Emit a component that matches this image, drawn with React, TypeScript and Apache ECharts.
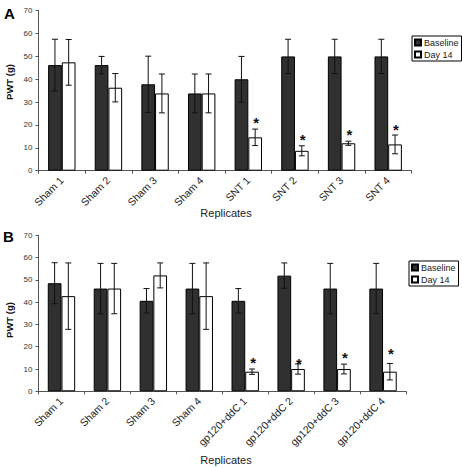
import React, { useEffect, useRef } from "react";
import * as echarts from "echarts";

const categoriesA = ["Sham 1", "Sham 2", "Sham 3", "Sham 4", "SNT 1", "SNT 2", "SNT 3", "SNT 4"];
const baselineA = [46.2, 46.2, 37.8, 33.8, 40.0, 50.0, 50.0, 50.0];
const baselineErrA = [11.3, 3.8, 12.3, 8.5, 10.0, 7.5, 7.5, 7.5];
const day14A = [47.4, 36.3, 33.8, 33.8, 14.6, 8.7, 12.0, 11.5];
const day14ErrA = [10.0, 6.2, 8.5, 8.5, 3.6, 2.2, 0.9, 4.1];
const starA = [null, null, null, null, 22.9, 15.2, 17.8, 19.7];

const categoriesB = ["Sham 1", "Sham 2", "Sham 3", "Sham 4", "gp120+ddC 1", "gp120+ddC 2", "gp120+ddC 3", "gp120+ddC 4"];
const baselineB = [48.5, 46.1, 40.6, 46.1, 40.6, 51.9, 46.1, 46.1];
const baselineErrB = [9.2, 11.3, 5.5, 11.3, 5.5, 5.7, 11.3, 11.3];
const day14B = [42.7, 46.1, 52.0, 42.7, 8.8, 10.0, 10.0, 8.8];
const day14ErrB = [14.9, 11.3, 5.6, 14.9, 1.2, 2.3, 2.2, 3.7];
const starB = [null, null, null, null, 14.5, 14.2, 16.8, 18.7];

const yTicks = { min: 0, max: 70, interval: 10 };
const seriesNames = ["Baseline", "Day 14"];

const FONT = "Liberation Sans, Arial, sans-serif";
const BAR_W = 13.7;
const DARK = "#303030";

function errData(means: number[], errs: number[], stars: (number | null)[] | null) {
  return means.map((m, i) => [i, m, errs[i], stars && stars[i] != null ? stars[i] : -1]);
}

function makeRender(offset: number) {
  return (params: any, api: any) => {
    const idx = api.value(0);
    const mean = api.value(1);
    const err = api.value(2);
    const star = api.value(3);
    const c = api.coord([idx, mean]);
    const x = c[0] + offset;
    const yTop = api.coord([idx, mean + err])[1];
    const yBot = api.coord([idx, mean - err])[1];
    const ls = { stroke: "#111", lineWidth: 1 };
    const children: any[] = [
      { type: "line", shape: { x1: x, y1: yTop, x2: x, y2: yBot }, style: ls },
      { type: "line", shape: { x1: x - 3, y1: yTop, x2: x + 3, y2: yTop }, style: ls },
      { type: "line", shape: { x1: x - 3, y1: yBot, x2: x + 3, y2: yBot }, style: ls },
    ];
    if (star >= 0) {
      const sy = api.coord([idx, star])[1];
      children.push({
        type: "text",
        x: x + 1,
        y: sy + 4,
        style: {
          text: "*",
          fontSize: 15,
          fontWeight: "bold",
          fontFamily: FONT,
          fill: "#111",
          align: "center",
          verticalAlign: "middle",
        },
      });
    }
    return { type: "group", children };
  };
}

function axisPair(gridIndex: number, cats: string[]) {
  const xAxis = {
    type: "category",
    gridIndex,
    data: cats,
    axisLine: { show: true, lineStyle: { color: "#555", width: 1 } },
    axisTick: { show: true, length: 3, lineStyle: { color: "#555" } },
    axisLabel: { rotate: 45, fontSize: 10.5, color: "#222", fontFamily: FONT, margin: 8, interval: 0 },
    splitLine: { show: false },
  };
  const yAxis = {
    type: "value",
    gridIndex,
    min: yTicks.min,
    max: yTicks.max,
    interval: yTicks.interval,
    axisLine: { show: true, lineStyle: { color: "#555", width: 1 } },
    axisTick: { show: true, length: 3, lineStyle: { color: "#555" } },
    axisLabel: { fontSize: 8, color: "#333", fontFamily: FONT, margin: 6 },
    splitLine: { show: false },
  };
  return { xAxis, yAxis };
}

function barSeries(name: string, idx: number, data: number[], color: string) {
  return {
    name,
    type: "bar",
    xAxisIndex: idx,
    yAxisIndex: idx,
    data,
    barWidth: BAR_W,
    barGap: "0%",
    itemStyle: { color, borderColor: "#000", borderWidth: 1 },
    z: 2,
  };
}

function errSeries(idx: number, data: any[], offset: number) {
  return {
    type: "custom",
    xAxisIndex: idx,
    yAxisIndex: idx,
    renderItem: makeRender(offset),
    data,
    encode: { x: 0, y: 1 },
    z: 5,
    silent: true,
  };
}

export default function App() {
  const ref = useRef<HTMLDivElement>(null);
  useEffect(() => {
    if (!ref.current) return;
    const chart = echarts.init(ref.current, null, { renderer: "svg" });
    const a = axisPair(0, categoriesA);
    const b = axisPair(1, categoriesB);
    const legendBase = {
      orient: "vertical",
      left: 412,
      icon: "rect",
      itemWidth: 6,
      itemHeight: 6,
      itemGap: 3,
      padding: [2, 3, 2, 2],
      borderColor: "#000",
      borderWidth: 1,
      selectedMode: false,
      data: seriesNames,
      textStyle: { fontSize: 9, color: "#222", fontFamily: FONT, padding: [0, 0, 0, -2] },
    };
    chart.setOption({
      animation: false,
      backgroundColor: "#fff",
      textStyle: { fontFamily: FONT },
      grid: [
        { left: 38.5, top: 10.7, width: 373, height: 160, containLabel: false },
        { left: 38.5, top: 235.3, width: 367.5, height: 156, containLabel: false },
      ],
      xAxis: [a.xAxis, b.xAxis],
      yAxis: [a.yAxis, b.yAxis],
      legend: [
        { ...legendBase, top: 36 },
        { ...legendBase, top: 261, left: 409 },
      ],
      series: [
        barSeries(seriesNames[0], 0, baselineA, DARK),
        barSeries(seriesNames[1], 0, day14A, "#ffffff"),
        errSeries(0, errData(baselineA, baselineErrA, null), -BAR_W / 2),
        errSeries(0, errData(day14A, day14ErrA, starA), BAR_W / 2),
        barSeries(seriesNames[0], 1, baselineB, DARK),
        barSeries(seriesNames[1], 1, day14B, "#ffffff"),
        errSeries(1, errData(baselineB, baselineErrB, null), -BAR_W / 2),
        errSeries(1, errData(day14B, day14ErrB, starB), BAR_W / 2),
      ],
      graphic: [
        { type: "text", left: 4, top: 6, style: { text: "A", fontSize: 15, fontWeight: "bold", fontFamily: FONT, fill: "#000" } },
        { type: "text", left: 3, top: 229, style: { text: "B", fontSize: 15, fontWeight: "bold", fontFamily: FONT, fill: "#000" } },
        { type: "text", x: 9, y: 82, rotation: Math.PI / 2, style: { text: "PWT (g)", fontSize: 9.5, fontWeight: "bold", fontFamily: FONT, fill: "#111", align: "center", verticalAlign: "middle" } },
        { type: "text", x: 9, y: 320, rotation: Math.PI / 2, style: { text: "PWT (g)", fontSize: 9.5, fontWeight: "bold", fontFamily: FONT, fill: "#111", align: "center", verticalAlign: "middle" } },
        { type: "text", x: 226, y: 213, style: { text: "Replicates", fontSize: 11, fontFamily: FONT, fill: "#222", align: "center", verticalAlign: "middle" } },
        { type: "text", x: 226, y: 460, style: { text: "Replicates", fontSize: 11, fontFamily: FONT, fill: "#222", align: "center", verticalAlign: "middle" } },
      ],
    });
    return () => chart.dispose();
  }, []);
  return <div ref={ref} style={{ position: "fixed", left: 0, top: 0, width: 462, height: 468 }} />;
}
